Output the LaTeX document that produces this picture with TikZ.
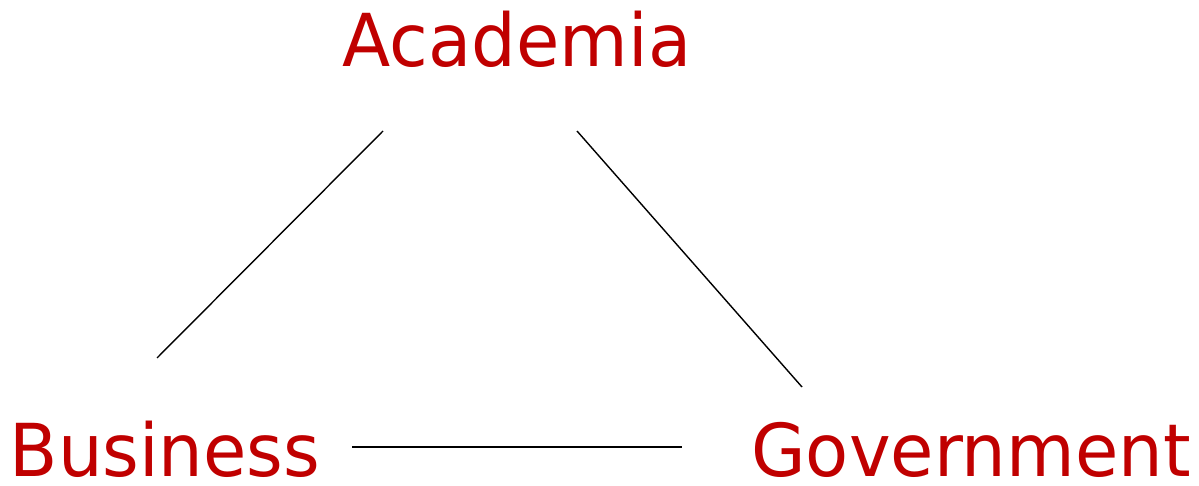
\documentclass[tikz,border=0pt]{standalone}
\usepackage{fontspec}
\setmainfont{DejaVu Sans}[FakeStretch=0.965]
\definecolor{labelred}{HTML}{C00000}
\begin{document}
\begin{tikzpicture}[x=1pt,y=-1pt,
  lbl/.style={text=labelred,font=\fontsize{73}{80}\selectfont,inner sep=0pt,text depth=0pt,anchor=base},
  link/.style={draw=black,line width=1.4pt}]
\useasboundingbox (0,0) rectangle (1199,486);
\node[lbl] (acad) at (517,67) {Academia};
\node[lbl] (bus) at (165,476) {Business};
\node[lbl] (gov) at (971,476) {Government};
\coordinate (a1) at (383,131);
\coordinate (b1) at (157,358);
\coordinate (a2) at (577,131);
\coordinate (g1) at (802,387);
\coordinate (b2) at (352,447);
\coordinate (g2) at (682,447);
\draw[link] (a1) -- (b1);
\draw[link] (a2) -- (g1);
\draw[link] (b2) -- (g2);
\end{tikzpicture}
\end{document}
